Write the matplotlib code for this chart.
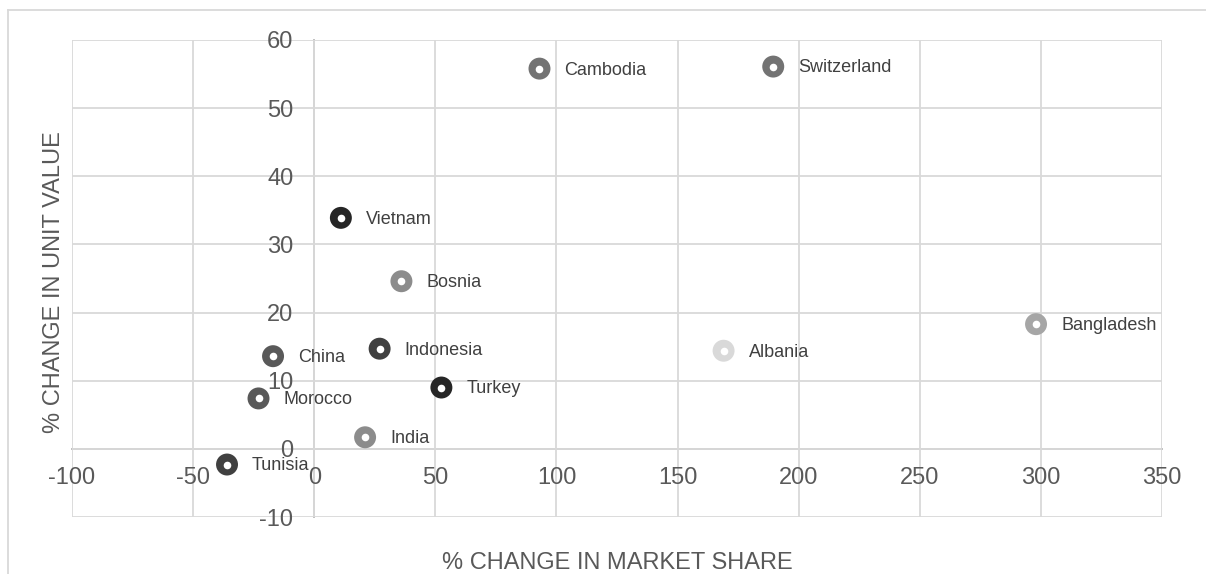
import matplotlib
matplotlib.use("Agg")
import matplotlib.pyplot as plt
from matplotlib.lines import Line2D

plt.rcParams['font.family'] = ['Liberation Sans', 'DejaVu Sans']
plt.rcParams['axes.unicode_minus'] = False

# data
countries = ["Cambodia", "Switzerland", "Vietnam", "Bosnia", "Bangladesh", "Albania",
             "Indonesia", "China", "Turkey", "Morocco", "India", "Tunisia"]
market_share = [93, 189.5, 11, 36, 298, 169, 27, -17, 52.5, -23, 21, -36]
unit_value = [55.8, 56.1, 33.9, 24.6, 18.3, 14.4, 14.7, 13.6, 9.0, 7.4, 1.7, -2.3]
colors = ["#737373", "#737373", "#262626", "#8c8c8c", "#a6a6a6", "#d9d9d9",
          "#404040", "#595959", "#262626", "#595959", "#8c8c8c", "#404040"]

xticks = [-100, -50, 0, 50, 100, 150, 200, 250, 300, 350]
yticks = [-10, 0, 10, 20, 30, 40, 50, 60]

fig = plt.figure(figsize=(12.06, 5.74), dpi=100)
ax = fig.add_axes([72/1206, 1-517/574, 1090/1206, 477/574])

ax.set_xlim(-100, 350)
ax.set_ylim(-10, 60)
ax.set_xticks(xticks)
ax.set_yticks(yticks)
ax.grid(True, color="#d9d9d9", linewidth=1.3)
ax.set_axisbelow(True)

for s in ["top", "right"]:
    ax.spines[s].set_visible(False)
ax.spines["left"].set_position(("data", 0))
ax.spines["bottom"].set_position(("data", 0))
for s in ["left", "bottom"]:
    ax.spines[s].set_color("#bfbfbf")
    ax.spines[s].set_linewidth(1.4)
    ax.spines[s].set_zorder(0.5)

ax.tick_params(axis="both", length=0, labelsize=17, labelcolor="#595959")
ax.tick_params(axis="x", pad=13)
ax.tick_params(axis="y", pad=15)

ax.scatter(market_share, unit_value, s=250, c=colors, zorder=3, linewidths=0)
ax.scatter(market_share, unit_value, s=30, c="white", zorder=4, linewidths=0)

for name, x, y in zip(countries, market_share, unit_value):
    ax.annotate(name, (x, y), xytext=(18, -1), textcoords="offset points",
                va="center", ha="left", fontsize=13, color="#404040", zorder=5)

fig.text(617/1206, 1-563/574, "% CHANGE IN MARKET SHARE", ha="center", va="center",
         fontsize=17, color="#595959")
fig.text(54/1206, 1-282/574, "% CHANGE IN UNIT VALUE", ha="center", va="center",
         rotation=90, fontsize=17, color="#595959")

# outer chart border (top and left edges visible)
fig.add_artist(Line2D([8/1206, 1], [1-10/574, 1-10/574], color="#d9d9d9", linewidth=1.3))
fig.add_artist(Line2D([8/1206, 8/1206], [0, 1-10/574], color="#d9d9d9", linewidth=1.3))

fig.savefig("out.png", dpi=100)
